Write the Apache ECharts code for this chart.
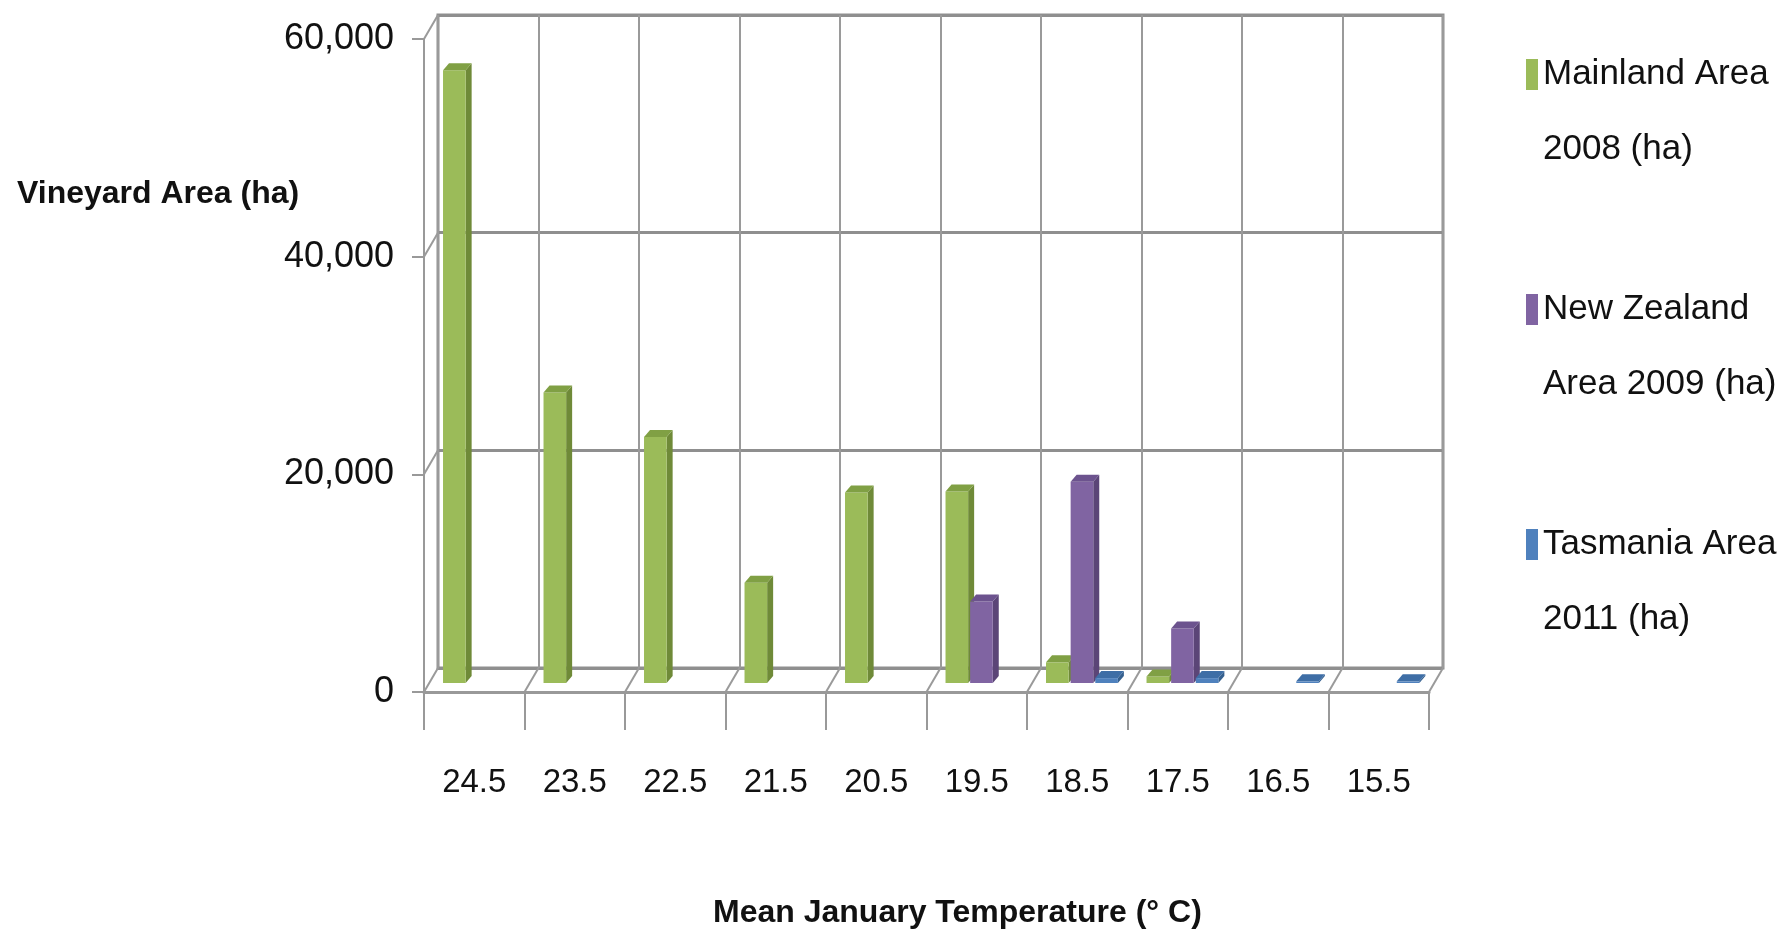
<!DOCTYPE html>
<html><head><meta charset="utf-8">
<script src="https://cdn.jsdelivr.net/npm/echarts@6/dist/echarts.min.js"></script>
<style>html,body{margin:0;padding:0;background:#fff}#c{width:1789px;height:944px}</style>
</head><body><div id="c"></div>
<script>
const categories = ['24.5','23.5','22.5','21.5','20.5','19.5','18.5','17.5','16.5','15.5'];
const mainland2008 = [56300, 26700, 22600, 9200, 17500, 17600, 1900, 600, 0, 0];
const newZealand2009 = [0, 0, 0, 0, 0, 7500, 18500, 5000, 0, 0];
const tasmania2011 = [0, 0, 0, 0, 0, 0, 450, 450, 150, 150];
const yTicks = [0, 20000, 40000, 60000];
const seriesNames = ['Mainland Area\n2008 (ha)', 'New Zealand\nArea 2009 (ha)', 'Tasmania Area\n2011 (ha)'];

const FONT = '"Liberation Sans", Arial, sans-serif';
const DEPTH_DX = 14, DEPTH_DY = 24;   // back wall -> front plane
const BAR_DY = 15;                     // bars sit slightly in front of back wall
const palette = [
  {front:'#9BBB59', side:'#6F8A38', top:'#80A044'},
  {front:'#8064A2', side:'#5B4577', top:'#6C538E'},
  {front:'#4F81BD', side:'#35608F', top:'#3E6EA6'}
];
const seriesData = [mainland2008, newZealand2009, tasmania2011];

function barRenderer(k){
  return function(params, api){
    const i = api.value(0), v = api.value(1);
    if (!v) return null;
    const bw = api.size([1,0])[0];
    const c = api.coord([i, v]);
    const b = api.coord([i, 0]);
    const left = c[0] - bw/2;
    const x0 = left + bw*(0.05 + 0.245*k);
    const x1 = x0 + bw*0.225;
    const yT = c[1] + BAR_DY, yB = b[1] + BAR_DY;
    const dx = 6, dy = 7;
    const col = palette[k];
    return {type:'group', children:[
      {type:'polygon', shape:{points:[[x1,yT],[x1+dx,yT-dy],[x1+dx,yB-dy],[x1,yB]]}, style:{fill:col.side}},
      {type:'rect', shape:{x:x0, y:yT, width:x1-x0, height:yB-yT}, style:{fill:col.front}},
      {type:'polygon', shape:{points:[[x0,yT],[x1,yT],[x1+dx,yT-dy],[x0+dx,yT-dy]]}, style:{fill:col.top}}
    ]};
  };
}

function frameRenderer(params, api){
  const i = api.value(0);
  const bw = api.size([1,0])[0];
  const b = api.coord([i, 0]);
  const children = [];
  const st = {stroke:'#9a9a9a', lineWidth:2, fill:null};
  const addDiag = (x, y) => children.push({type:'line', shape:{x1:x, y1:y, x2:x-DEPTH_DX, y2:y+DEPTH_DY}, style:st});
  addDiag(b[0]-bw/2, b[1]);
  if (i === categories.length-1) addDiag(b[0]+bw/2, b[1]);
  if (i === 0) yTicks.forEach(t => { if (t > 0) { const p = api.coord([i, t]); addDiag(b[0]-bw/2, p[1]); } });
  return {type:'group', children};
}

const chart = echarts.init(document.getElementById('c'), null, {renderer:'canvas'});
const series = [{
  type:'custom', name:'frame', xAxisIndex:0, yAxisIndex:0, silent:true, z:1,
  renderItem: frameRenderer, data: categories.map((c,i)=>[i,0]), encode:{x:0,y:1}
}];
seriesData.forEach((arr,k)=>{
  series.push({
    type:'custom', name:seriesNames[k], xAxisIndex:0, yAxisIndex:0, z:5,
    itemStyle:{color:palette[k].front},
    renderItem: barRenderer(k),
    data: arr.map((v,i)=>[i,v]), encode:{x:0,y:1}
  });
});

chart.setOption({
  backgroundColor:'#ffffff',
  animation:false,
  title:[
    {text:'Vineyard Area (ha)', left:17, top:178, padding:0,
     textStyle:{fontFamily:FONT, fontSize:32, fontWeight:'bold', color:'#111', lineHeight:32}},
    {text:'Mean January Temperature (° C)', left:713, top:897, padding:0,
     textStyle:{fontFamily:FONT, fontSize:32, fontWeight:'bold', color:'#111', lineHeight:32}}
  ],
  legend:{
    data: seriesNames, orient:'vertical', left:1526, top:37, padding:0,
    itemWidth:12, itemHeight:150, itemGap:85,
    icon:'path://M0,0L0.01,0ZM0,22L12,22L12,53L0,53ZM0,150L0.01,150Z',
    textStyle:{fontFamily:FONT, fontSize:35, color:'#111', lineHeight:75}
  },
  grid:[
    {left:438, top:15, width:1005, height:653, show:true, borderColor:'#8f8f8f', borderWidth:3, backgroundColor:'transparent'},
    {left:424, top:39, width:1005, height:653, show:false}
  ],
  xAxis:[
    {type:'category', gridIndex:0, data:categories, boundaryGap:true,
     axisLine:{show:false}, axisTick:{show:false}, axisLabel:{show:false},
     splitLine:{show:true, interval:0, lineStyle:{color:'#9a9a9a', width:2}}},
    {type:'category', gridIndex:1, data:categories, boundaryGap:true,
     axisLine:{show:true, lineStyle:{color:'#999', width:3}},
     axisTick:{show:true, interval:0, length:38, lineStyle:{color:'#999', width:2}},
     axisLabel:{show:true, interval:0, margin:74, fontFamily:FONT, fontSize:33, lineHeight:33, color:'#111'},
     splitLine:{show:false}}
  ],
  yAxis:[
    {type:'value', gridIndex:0, min:0, max:60000, interval:20000,
     axisLine:{show:false}, axisTick:{show:false}, axisLabel:{show:false},
     splitLine:{show:true, lineStyle:{color:'#8f8f8f', width:3}}},
    {type:'value', gridIndex:1, min:0, max:60000, interval:20000,
     axisLine:{show:true, lineStyle:{color:'#999', width:2}},
     axisTick:{show:true, length:12, lineStyle:{color:'#999', width:2}},
     axisLabel:{show:true, margin:30, fontFamily:FONT, fontSize:36, color:'#111',
       formatter: v => v.toLocaleString('en-US')},
     splitLine:{show:false}}
  ],
  series
});
</script></body></html>
